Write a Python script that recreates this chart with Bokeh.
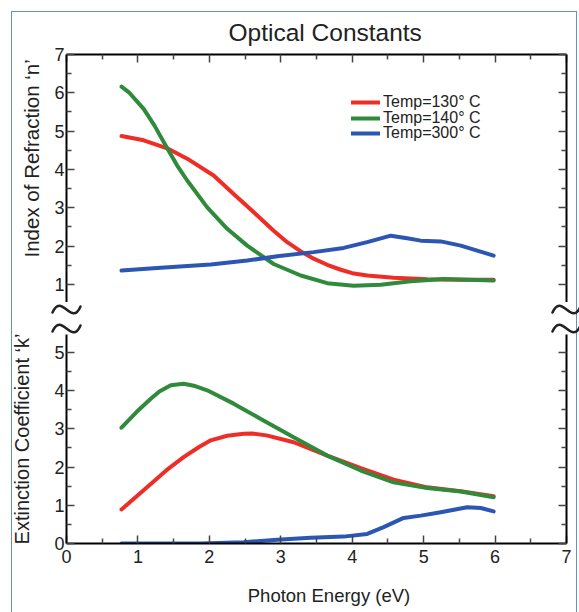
from bokeh.plotting import figure
from bokeh.models import Range1d, FixedTicker, LinearAxis, Legend, LegendItem, Title
from bokeh.layouts import column
from bokeh.embed import file_html
from bokeh.resources import INLINE
from bokeh.core.properties import value

# ---------------- data ----------------
x_ticks = [0, 1, 2, 3, 4, 5, 6, 7]
x_minor = [0.5, 1.5, 2.5, 3.5, 4.5, 5.5, 6.5]
n_ticks = [1, 2, 3, 4, 5, 6, 7]
n_minor = [1.5, 2.5, 3.5, 4.5, 5.5, 6.5]
k_ticks = [0, 1, 2, 3, 4, 5]
k_minor = [0.5, 1.5, 2.5, 3.5, 4.5]

series_labels = ["Temp=130° C", "Temp=140° C", "Temp=300° C"]
title_text = "Optical Constants"
n_label = "Index of Refraction ‘n’"
k_label = "Extinction Coefficient ‘k’"
x_label = "Photon Energy (eV)"

# Index of refraction n
n130_x = [0.77, 1.08, 1.41, 1.69, 2.06, 2.34, 2.53, 2.72, 2.90, 3.09, 3.28, 3.46, 3.65, 3.84, 4.00, 4.21, 4.58, 5.05, 5.50, 5.98]
n130_y = [4.87, 4.76, 4.55, 4.28, 3.84, 3.36, 3.04, 2.71, 2.40, 2.10, 1.86, 1.67, 1.51, 1.38, 1.29, 1.23, 1.17, 1.13, 1.12, 1.12]
n140_x = [0.77, 0.87, 1.08, 1.23, 1.41, 1.55, 1.69, 1.97, 2.25, 2.53, 2.90, 3.28, 3.65, 4.02, 4.40, 4.82, 5.28, 5.98]
n140_y = [6.16, 6.02, 5.58, 5.15, 4.55, 4.10, 3.71, 3.01, 2.45, 2.01, 1.53, 1.23, 1.03, 0.96, 0.99, 1.08, 1.14, 1.10]
n300_x = [0.77, 1.32, 2.02, 2.53, 2.95, 3.46, 3.88, 4.21, 4.54, 4.77, 4.96, 5.24, 5.52, 5.98]
n300_y = [1.36, 1.43, 1.52, 1.62, 1.73, 1.84, 1.95, 2.10, 2.27, 2.20, 2.14, 2.12, 2.01, 1.75]

# Extinction coefficient k
k130_x = [0.77, 1.18, 1.40, 1.64, 1.85, 2.02, 2.25, 2.48, 2.60, 2.80, 3.18, 3.65, 4.12, 4.58, 5.05, 5.52, 5.98]
k130_y = [0.89, 1.56, 1.92, 2.26, 2.52, 2.70, 2.82, 2.87, 2.88, 2.83, 2.65, 2.30, 1.97, 1.67, 1.47, 1.37, 1.24]
k140_x = [0.77, 0.98, 1.18, 1.30, 1.46, 1.64, 1.80, 1.97, 2.34, 2.72, 3.18, 3.65, 4.12, 4.58, 5.05, 5.52, 5.98]
k140_y = [3.03, 3.44, 3.79, 3.98, 4.14, 4.18, 4.12, 4.01, 3.66, 3.26, 2.78, 2.30, 1.91, 1.60, 1.45, 1.36, 1.21]
k300_x = [0.77, 1.88, 2.48, 2.95, 3.42, 3.88, 4.21, 4.44, 4.72, 4.96, 5.24, 5.61, 5.80, 5.98]
k300_y = [0.00, 0.00, 0.03, 0.10, 0.15, 0.18, 0.25, 0.43, 0.67, 0.73, 0.82, 0.95, 0.93, 0.84]

# axis-break marks sit on the two vertical frame edges
break_x = [x_ticks[0], x_ticks[-1]]

# ---------------- style ----------------
RED = "#ee2d26"
GREEN = "#2f8a3b"
BLUE = "#2b56b3"
FONT = "Liberation Sans"
TXT = "#222222"
LW = 4
W = 579
PX = 71.43  # pixels per x unit on the frames


def style_axis(ax, ticks, minor, labels=True, standoff=2):
    ax.ticker = FixedTicker(ticks=ticks, minor_ticks=minor)
    ax.axis_line_width = 2
    ax.axis_line_color = "black"
    ax.major_tick_in = 8
    ax.major_tick_out = 0
    ax.minor_tick_in = 5
    ax.minor_tick_out = 0
    ax.major_tick_line_color = "#444444"
    ax.minor_tick_line_color = "#444444"
    ax.major_tick_line_width = 1.5
    ax.minor_tick_line_width = 1.5
    ax.major_label_text_font = FONT
    ax.major_label_text_font_size = "18px"
    ax.major_label_text_color = TXT
    ax.major_label_standoff = standoff
    if not labels:
        ax.major_label_overrides = {t: "" for t in ticks}
        ax.major_label_text_font_size = "1px"
        ax.major_label_standoff = 0


def strip(height, y_max):
    s = figure(width=W, height=height, x_range=Range1d(-66 / PX, 7 + 13 / PX), y_range=Range1d(0, y_max),
               output_backend="svg", toolbar_location=None,
               x_axis_location=None, y_axis_location=None,
               min_border_left=0, min_border_right=0, min_border_top=0, min_border_bottom=0)
    try:
        s.frame_align = False
    except Exception:
        pass
    s.grid.visible = False
    s.outline_line_color = None
    s.border_fill_color = None
    s.background_fill_color = None
    return s


# ---------------- top panel (n) ----------------
p1 = figure(width=W, height=302, x_range=Range1d(0, 7), y_range=Range1d(0.525, 7),
            output_backend="svg", toolbar_location=None,
            x_axis_location="above", y_axis_location="left",
            min_border_left=66, min_border_right=13, min_border_top=54, min_border_bottom=0)
p1.add_layout(LinearAxis(), "right")
p1.grid.visible = False
p1.outline_line_color = None
p1.border_fill_color = None
style_axis(p1.xaxis[0], x_ticks, x_minor, labels=False)
style_axis(p1.left[0], n_ticks, n_minor, labels=True, standoff=2)
style_axis(p1.right[0], n_ticks, n_minor, labels=False)

p1.title.text = title_text
p1.title.align = "left"
p1.title.offset = 162
p1.title.standoff = 18
p1.title.text_font = FONT
p1.title.text_font_size = "24.5px"
p1.title.text_font_style = "normal"
p1.title.text_color = TXT

p1.add_layout(Title(text=n_label, align="left", offset=45, standoff=18,
                    text_font=FONT, text_font_size="20.5px", text_font_style="normal",
                    text_color=TXT), "left")

r1 = p1.line(n130_x, n130_y, line_color=RED, line_width=LW, line_join="round", line_cap="round")
r2 = p1.line(n140_x, n140_y, line_color=GREEN, line_width=LW, line_join="round", line_cap="round")
r3 = p1.line(n300_x, n300_y, line_color=BLUE, line_width=LW, line_join="round", line_cap="round")

# one single-entry legend per series so that the row pitch matches the original
for lab, rend, ypos in zip(series_labels, [r1, r2, r3], [191.5, 175.5, 160]):
    p1.add_layout(Legend(items=[LegendItem(label=lab, renderers=[rend])],
                         location=(285, ypos), label_text_font=FONT, label_text_font_size="16px",
                         label_text_color=TXT, glyph_width=29, glyph_height=14, label_height=14,
                         spacing=0, padding=0, margin=0, label_standoff=3,
                         background_fill_alpha=0, border_line_color=None))

# ---------------- break strip (the "~" marks between the two panels) ----------------
pm = strip(32, 32)
sq_x, sq_y = [], []
for yc in (25, 6):
    for xb in break_x:
        sq_x.append(xb)
        sq_y.append(yc)
hw = 14 / PX
pm.bezier(x0=[x - hw for x in sq_x], y0=[y - 3 for y in sq_y],
          x1=[x + hw for x in sq_x], y1=[y + 3 for y in sq_y],
          cx0=[x - 5 / PX for x in sq_x], cy0=[y + 18 for y in sq_y],
          cx1=[x + 5 / PX for x in sq_x], cy1=[y - 18 for y in sq_y],
          line_color=TXT, line_width=2.5, line_cap="round")

# ---------------- bottom panel (k) ----------------
p2 = figure(width=W, height=241, x_range=Range1d(0, 7), y_range=Range1d(0, 5.47),
            output_backend="svg", toolbar_location=None,
            x_axis_location="below", y_axis_location="left",
            min_border_left=66, min_border_right=13, min_border_top=0, min_border_bottom=32)
p2.add_layout(LinearAxis(), "right")
p2.grid.visible = False
p2.outline_line_color = None
p2.border_fill_color = None
style_axis(p2.below[0], x_ticks, x_minor, labels=True, standoff=6)
style_axis(p2.left[0], k_ticks, k_minor, labels=True, standoff=2)
style_axis(p2.right[0], k_ticks, k_minor, labels=False)
p2.left[0].axis_label = k_label
p2.left[0].axis_label_standoff = 18
p2.left[0].axis_label_text_font = FONT
p2.left[0].axis_label_text_font_size = "20px"
p2.left[0].axis_label_text_font_style = "normal"
p2.left[0].axis_label_text_color = TXT

p2.line(k130_x, k130_y, line_color=RED, line_width=LW, line_join="round", line_cap="round")
p2.line(k140_x, k140_y, line_color=GREEN, line_width=LW, line_join="round", line_cap="round")
p2.line(k300_x, k300_y, line_color=BLUE, line_width=LW, line_join="round", line_cap="round")

# ---------------- x-axis title strip ----------------
pb = strip(37, 37)
pb.text(x=[3.675], y=[17], text=[x_label], text_font=value(FONT), text_font_size="18.5px",
        text_color=TXT, text_align="center", text_baseline="middle")

layout = column(p1, pm, p2, pb, styles={
    "box-shadow": "inset 11px 11px 0 0 #ffffff, inset -2px 0 0 0 #ffffff, "
                  "inset 12px 12px 0 0 #5b94c5, inset -3px 0 0 0 #5b94c5"})

open("out.html", "w").write(file_html(layout, INLINE))
